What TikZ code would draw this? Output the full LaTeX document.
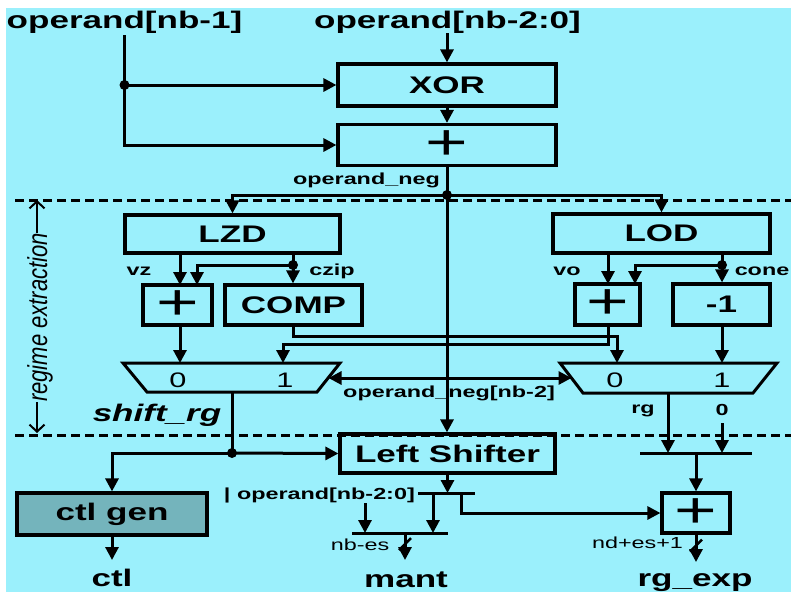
\documentclass[tikz,border=0pt]{standalone}
\usepackage{fontspec}
\usepackage{graphicx}
\newfontfamily\hf{Liberation Sans}[FakeStretch=1.46]
\newfontfamily\rf{Liberation Sans}
\usetikzlibrary{arrows.meta,calc}

\definecolor{bgcyan}{RGB}{155,240,252}
\definecolor{genteal}{RGB}{116,180,188}

\begin{document}
\begin{tikzpicture}[x=1pt,y=-1pt,
  wire/.style={line width=3pt},
  arr/.style={wire,-{Triangle[length=13pt,width=13pt]}},
  dblarr/.style={wire,{Triangle[length=13pt,width=13pt]}-{Triangle[length=13pt,width=13pt]}},
  barb/.style={line width=2pt,-{Straight Barb[length=7pt,width=15pt]}},
  box/.style={draw,line width=3.2pt,rectangle,inner sep=0pt,
              font=\hf\bfseries\fontsize{24}{24}\selectfont},
  plus/.style={font=\hf\mdseries\fontsize{50}{50}\selectfont},
  big/.style={font=\hf\bfseries\fontsize{24}{24}\selectfont,inner sep=0pt},
  bigit/.style={font=\hf\bfseries\itshape\fontsize{24}{24}\selectfont,inner sep=0pt},
  small/.style={font=\hf\bfseries\fontsize{16}{16}\selectfont,inner sep=0pt},
  thin/.style={font=\hf\fontsize{16}{16}\selectfont,inner sep=0pt},
  muxnum/.style={font=\hf\fontsize{21}{21}\selectfont,inner sep=0pt},
  muxline/.style={line width=3pt,line join=miter},
  dot/.style={circle,fill,inner sep=0pt,minimum size=10pt},
  sep/.style={line width=3pt,dash pattern=on 9pt off 5pt},
  tickmark/.style={line width=2.5pt},
]
\useasboundingbox (0,0) rectangle (791,592);
\fill[bgcyan] (6,8) rectangle (791,592);

% stage separators
\draw[sep] (15,200) -- (791,200);
\draw[sep] (15,435) -- (791,435);

% ---------- nodes ----------
\node[big,anchor=base] (in1) at (124.5,28) {operand[nb-1]};
\node[big,anchor=base] (in2) at (447.5,28) {operand[nb-2:0]};

\node[box,minimum width=218pt,minimum height=42pt] (xor) at (447,85) {XOR};
\node[box,plus,minimum width=218pt,minimum height=41pt] (add1) at (447,145) {+};
\node[small,anchor=base east] (negl) at (440,184) {operand\_neg};

\node[box,minimum width=215pt,minimum height=38pt] (lzd) at (232.5,234) {LZD};
\node[box,minimum width=217pt,minimum height=39pt] (lod) at (661.5,233.5) {LOD};

\node[box,plus,minimum width=69pt,minimum height=40pt] (addl) at (177.5,305) {+};
\node[box,minimum width=137pt,minimum height=40pt] (comp) at (293.5,305) {COMP};
\node[box,plus,minimum width=65pt,minimum height=41pt] (addr) at (607.5,304.5) {+};
\node[box,minimum width=97pt,minimum height=41pt] (dec) at (721.5,304.5) {-1};

\node[box,minimum width=215pt,minimum height=39pt] (shifter) at (447.5,453.5) {Left Shifter};
\node[box,fill=genteal,minimum width=190pt,minimum height=42pt] (ctlgen) at (112,514) {ctl gen};
\node[box,plus,minimum width=68pt,minimum height=40pt] (addb) at (696,513) {+};

% labels
\node[small,anchor=base] at (139,275) {vz};
\node[small,anchor=base] at (332,275) {czip};
\node[small,anchor=base] at (567,275) {vo};
\node[small,anchor=base] at (762,275) {cone};
\node[small,anchor=base] at (449,397) {operand\_neg[nb-2]};
\node[bigit,anchor=base] at (157,421) {shift\_rg};
\node[small,anchor=base] (rgl) at (643,413) {rg};
\node[small,anchor=base] (zero) at (722,415) {0};
\node[small,anchor=base east] (catl) at (415,499) {| operand[nb-2:0]};
\node[thin,anchor=base] at (360,550) {nb-es};
\node[thin,anchor=base] at (637.5,548) {nd+es+1};
\node[big,anchor=base] (ctl) at (112,586) {ctl};
\node[big,anchor=base] (mant) at (406,587) {mant};
\node[big,anchor=base] (rgexp) at (695,586) {rg\_exp};

% regime extraction span
\node[rotate=90,anchor=base,inner sep=0pt,font=\rf\itshape\fontsize{22}{22}\selectfont]
  (reg) at (47,317.5) {\scalebox{1}[1.25]{regime extraction}};
\coordinate (rtop) at (37,200);
\coordinate (rbot) at (37,433);
\draw[barb] (reg.east -| rtop) -- (rtop);
\draw[barb] (reg.west -| rbot) -- (rbot);

% multiplexers
\draw[muxline] (123,363) -- (340,363) -- (317,392) -- (147,392) -- cycle;
\draw[muxline] (560,363) -- (777,363) -- (753,393) -- (583,393) -- cycle;
\node[muxnum] at (178,380) {0};
\node[muxnum] at (285,380) {1};
\node[muxnum] at (615,380) {0};
\node[muxnum] at (722,380) {1};
\coordinate (lm0) at (180,363);
\coordinate (lm1) at (283,363);
\coordinate (lmSel) at (328.5,378);
\coordinate (lmOut) at (232,392);
\coordinate (rm0) at (617,363);
\coordinate (rm1) at (722,363);
\coordinate (rmSel) at (571.5,378);
\coordinate (rmOut) at (668,393);

% ---------- connectors ----------
% operand inputs
\coordinate (tap1) at (in1.south |- xor.west);
\draw[arr] ([yshift=-2pt]in1.south) -- (in1.south |- add1.west) -- (add1.west);
\draw[arr] (tap1) -- (xor.west);
\node[dot] at (tap1) {};
\draw[arr] (in2.south -| xor.north) -- (xor.north);
\draw[arr] (xor.south) -- (add1.north);

% operand_neg distribution
\coordinate (split) at (447,195);
\draw[arr] (add1.south) -- (add1.south |- shifter.north);
\draw[arr] (split) -| (lzd.north);
\draw[arr] (split) -| (lod.north);
\node[dot] at (split) {};

% LZD branch
\coordinate (vzIn) at (180,285);
\coordinate (czIn) at (197,285);
\coordinate (czTap) at (293,265);
\draw[arr] (lzd.south -| vzIn) -- (vzIn);
\draw[arr] (lzd.south -| czTap) -- (comp.north -| czTap);
\draw[arr] (czTap) -| (czIn);
\node[dot] at (czTap) {};

% LOD branch
\coordinate (voIn) at (608,284);
\coordinate (coIn) at (635,284);
\coordinate (coTap) at (722,265);
\draw[arr] (lod.south -| voIn) -- (voIn);
\draw[arr] (lod.south -| coTap) -- (dec.north -| coTap);
\draw[arr] (coTap) -| (coIn);
\node[dot] at (coTap) {};

% into the multiplexers
\coordinate (busA) at (293,336);
\coordinate (busB) at (608,344);
\draw[arr] (addl.south -| lm0) -- (lm0);
\draw[arr] (comp.south -| busA) -- (busA) -| (rm0);
\draw[arr] (addr.south -| busB) -- (busB) -| (lm1);
\draw[arr] (dec.south -| rm1) -- (rm1);
\draw[dblarr] (lmSel) -- (rmSel);

% shift amount
\coordinate (shTap) at (232,453);
\draw[wire] (lmOut) -- (shTap);
\draw[arr] (shTap) -- (shifter.west);
\draw[arr] (shTap) -| (ctlgen.north);
\node[dot] at (shTap) {};
\coordinate (ctlTip) at (112,560);
\draw[arr] (ctlgen.south) -- (ctlTip);

% mantissa path
\coordinate (b1L) at (418,493);
\coordinate (b1R) at (475,493);
\coordinate (b2L) at (352,533);
\coordinate (b2R) at (448,533);
\draw[wire] (b1L) -- (b1R);
\draw[wire] (b2L) -- (b2R);
\draw[arr] (shifter.south) -- (shifter.south |- b1L);
\coordinate (m1) at (433,493);
\coordinate (m2) at (365,503);
\draw[arr] (m1) -- (m1 |- b2L);
\draw[arr] (m2) -- (m2 |- b2L);
\coordinate (e1) at (461,493);
\draw[arr] (e1) |- (addb.west);
\coordinate (mOut) at (405,533);
\coordinate (mantTip) at (405,560);
\draw[arr] (mOut) -- (mantTip);
\draw[tickmark] ($(mOut)+(-6,17)$) -- ++(12,-12);

% regime / exponent path
\coordinate (b3L) at (640,453);
\coordinate (b3R) at (752,453);
\coordinate (b3M) at (696,453);
\draw[wire] (b3L) -- (b3R);
\draw[arr] (rmOut) -- (rmOut |- b3L);
\draw[arr] ([yshift=-8pt]zero.south) -- (zero.south |- b3L);
\draw[arr] (b3M) -- (addb.north);
\coordinate (expTip) at (696,562);
\draw[arr] (addb.south) -- (expTip);
\draw[tickmark] ($(addb.south)+(-6,17)$) -- ++(12,-12);
\end{tikzpicture}
\end{document}
